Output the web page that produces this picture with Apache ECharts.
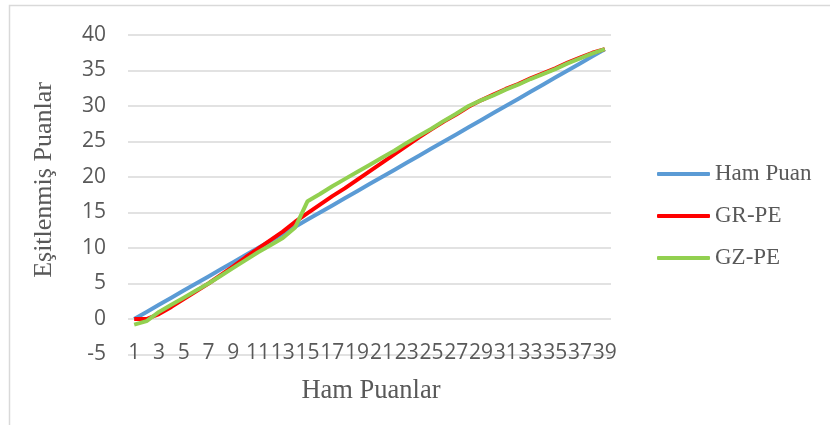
<!DOCTYPE html>
<html>
<head>
<meta charset="utf-8">
<script src="https://cdn.jsdelivr.net/npm/echarts@6/dist/echarts.min.js"></script>
<style>html,body{margin:0;padding:0;background:#fff;}#c{width:830px;height:425px;}</style>
</head>
<body>
<div id="c"></div>
<script>
const categories = ['1','2','3','4','5','6','7','8','9','10','11','12','13','14','15','16','17','18','19','20','21','22','23','24','25','26','27','28','29','30','31','32','33','34','35','36','37','38','39'];
const hamPuan = [0,1,2,3,4,5,6,7,8,9,10,11,12,13,14,15,16,17,18,19,20,21,22,23,24,25,26,27,28,29,30,31,32,33,34,35,36,37,38];
const grPE = [0,0,0.7,1.7,2.8,3.9,5.0,6.2,7.4,8.7,9.9,11.1,12.3,13.7,14.9,16.1,17.3,18.4,19.6,20.8,22.0,23.2,24.4,25.6,26.7,27.8,28.8,29.9,30.8,31.6,32.4,33.1,33.9,34.6,35.3,36.1,36.8,37.5,38.0];
const gzPE = [-0.8,-0.3,1.0,2.0,3.0,4.0,5.0,6.1,7.2,8.3,9.4,10.4,11.4,12.9,16.6,17.6,18.7,19.7,20.7,21.7,22.7,23.7,24.8,25.8,26.8,27.9,28.9,30.0,30.8,31.5,32.3,33.0,33.8,34.5,35.2,36.0,36.7,37.4,38.0];
const yTicks = {min: -5, max: 40, interval: 5};
const seriesNames = ['Ham Puan', 'GR-PE', 'GZ-PE'];
const xTitle = 'Ham Puanlar';
const yTitle = 'Eşitlenmiş Puanlar';

const chart = echarts.init(document.getElementById('c'), null, {renderer: 'canvas'});
const labelColor = '#595959';
const serif = '"Liberation Serif", "Times New Roman", serif';
const sans = '"Open Sans", sans-serif';
chart.setOption({
  animation: false,
  grid: {left: 128, right: 219, top: 35, bottom: 70.5, containLabel: false},
  graphic: [
    {type: 'rect', shape: {x: 9.5, y: 5.5, width: 900, height: 500}, style: {fill: 'none', stroke: '#D9D9D9', lineWidth: 1.5}, silent: true},
    {type: 'text', x: 44, y: 180, rotation: Math.PI / 2, style: {text: yTitle, font: '26px ' + serif, fill: labelColor, align: 'center', verticalAlign: 'middle'}},
    {type: 'text', x: 371, y: 391, style: {text: xTitle, font: '26.5px ' + serif, fill: labelColor, align: 'center', verticalAlign: 'middle'}}
  ],
  legend: {
    orient: 'vertical', left: 657, top: 162, padding: 0,
    icon: 'roundRect',
    itemWidth: 53, itemHeight: 4, itemGap: 18,
    data: seriesNames,
    textStyle: {fontFamily: serif, fontSize: 23, color: labelColor, lineHeight: 24},
    selectedMode: false
  },
  xAxis: {
    type: 'category', data: categories, boundaryGap: true,
    axisLine: {show: false}, axisTick: {show: false},
    axisLabel: {interval: 1, margin: -12, fontFamily: sans, fontSize: 21, color: labelColor, hideOverlap: false},
    splitLine: {show: false}
  },
  yAxis: {
    type: 'value', min: yTicks.min, max: yTicks.max, interval: yTicks.interval,
    axisLine: {show: false}, axisTick: {show: false},
    axisLabel: {margin: 22, fontFamily: sans, fontSize: 21, color: labelColor},
    splitLine: {lineStyle: {color: '#D9D9D9', width: 1.5}}
  },
  series: [
    {name: seriesNames[0], type: 'line', data: hamPuan, symbol: 'none', lineStyle: {color: '#5B9BD5', width: 4}, itemStyle: {color: '#5B9BD5'}},
    {name: seriesNames[1], type: 'line', data: grPE, symbol: 'none', lineStyle: {color: '#FF0000', width: 4}, itemStyle: {color: '#FF0000'}},
    {name: seriesNames[2], type: 'line', data: gzPE, symbol: 'none', lineStyle: {color: '#92D050', width: 4}, itemStyle: {color: '#92D050'}}
  ]
});
</script>
</body>
</html>
